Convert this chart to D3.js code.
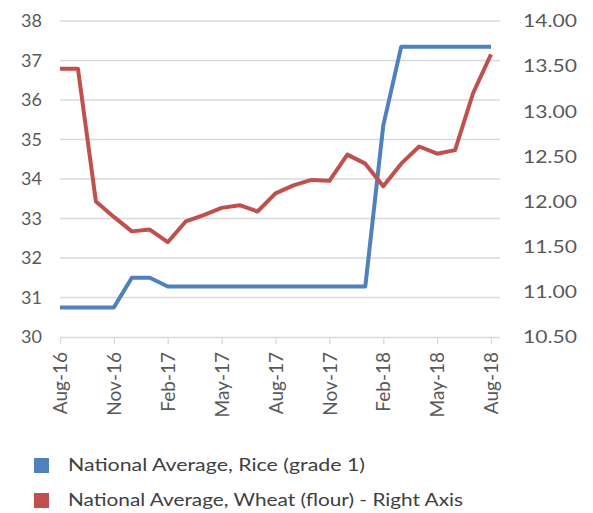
<!DOCTYPE html>
<html><head><meta charset="utf-8">
<script src="https://cdn.jsdelivr.net/npm/d3@7"></script>
<style>body{margin:0;background:#fff}svg{display:block}</style>
</head><body>
<svg id="c" width="593" height="513"></svg>
<script>
const months = ["Aug-16","Sep-16","Oct-16","Nov-16","Dec-16","Jan-17","Feb-17","Mar-17","Apr-17","May-17","Jun-17","Jul-17","Aug-17","Sep-17","Oct-17","Nov-17","Dec-17","Jan-18","Feb-18","Mar-18","Apr-18","May-18","Jun-18","Jul-18","Aug-18"];
const riceValues = [30.75,30.75,30.75,30.75,31.5,31.5,31.28,31.28,31.28,31.28,31.28,31.28,31.28,31.28,31.28,31.28,31.28,31.28,35.35,37.35,37.35,37.35,37.35,37.35,37.35];
const wheatValues = [13.47,13.47,12.0,11.83,11.67,11.69,11.55,11.78,11.85,11.93,11.96,11.89,12.09,12.18,12.24,12.23,12.52,12.42,12.17,12.42,12.61,12.53,12.57,13.2,13.63];
const leftTicks = [30,31,32,33,34,35,36,37,38];
const rightTicks = [10.5,11,11.5,12,12.5,13,13.5,14];
const xTickLabels = ["Aug-16","Nov-16","Feb-17","May-17","Aug-17","Nov-17","Feb-18","May-18","Aug-18"];
const seriesNames = ["National Average, Rice (grade 1)","National Average, Wheat (flour) - Right Axis"];
const colors = ["#4F81BD","#C0504D"];

const svg = d3.select("#c");
const font = "Lato, 'Open Sans', sans-serif";
const x0 = 60, x1 = 491, yTop = 21, yBot = 337, gridRight = 500;
const x = d3.scalePoint().domain(months).range([x0, x1]);
const yL = d3.scaleLinear().domain([30,38]).range([yBot, yTop]);
const yR = d3.scaleLinear().domain([10.5,14]).range([yBot, yTop]);

// gridlines
svg.append("g").selectAll("line").data(leftTicks.slice(1)).join("line")
  .attr("x1", x0).attr("x2", gridRight)
  .attr("y1", d => yL(d)).attr("y2", d => yL(d))
  .attr("stroke", "#d9d9d9").attr("stroke-width", 1.3);

// bottom axis
const xAxis = d3.axisBottom(x).tickValues(xTickLabels).tickSize(7).tickFormat(d => d);
const gx = svg.append("g").attr("transform", `translate(0,${yBot})`).call(xAxis);
gx.select(".domain").attr("d", `M${x0},0.5H${gridRight}`).attr("stroke", "#d9d9d9").attr("stroke-width", 1.3);
gx.selectAll(".tick line").attr("stroke", "#d9d9d9").attr("stroke-width", 1.3);
gx.selectAll(".tick text")
  .attr("transform", "rotate(-90)")
  .attr("x", -15).attr("y", 0).attr("dy", "0.35em")
  .attr("text-anchor", "end")
  .attr("fill", "#595959").attr("font-family", font).attr("font-size", 19);

// left axis
const gl = svg.append("g").attr("transform", `translate(${x0},0)`)
  .call(d3.axisLeft(yL).tickValues(leftTicks).tickSize(0).tickPadding(18).tickFormat(d3.format("d")));
gl.select(".domain").remove();
gl.selectAll("text").attr("fill", "#595959").attr("font-family", font).attr("font-size", 18);

// right axis
const gr = svg.append("g").attr("transform", `translate(${gridRight},0)`)
  .call(d3.axisRight(yR).tickValues(rightTicks).tickSize(0).tickPadding(23).tickFormat(d3.format(".2f")));
gr.select(".domain").remove();
gr.selectAll("text").attr("fill", "#595959").attr("font-family", font).attr("font-size", 18)
  .attr("textLength", 54).attr("lengthAdjust", "spacingAndGlyphs");

// lines
const lineL = d3.line().x((d,i) => x(months[i])).y(d => yL(d));
const lineR = d3.line().x((d,i) => x(months[i])).y(d => yR(d));
svg.append("path").attr("d", lineL(riceValues)).attr("fill", "none")
  .attr("stroke", colors[0]).attr("stroke-width", 4).attr("stroke-linejoin", "round");
svg.append("path").attr("d", lineR(wheatValues)).attr("fill", "none")
  .attr("stroke", colors[1]).attr("stroke-width", 4).attr("stroke-linejoin", "round");

// legend
const legendWidths = [297, 395];
const lg = svg.append("g");
seriesNames.forEach((n, i) => {
  const yy = 465.5 + i * 35;
  lg.append("rect").attr("x", 34).attr("y", yy - 7.5).attr("width", 15).attr("height", 15).attr("fill", colors[i]);
  lg.append("text").attr("x", 68).attr("y", yy).attr("dy", "0.35em")
    .attr("fill", "#404040").attr("font-family", font).attr("font-size", 17)
    .attr("textLength", legendWidths[i]).attr("lengthAdjust", "spacingAndGlyphs").text(n);
});
</script>
</body></html>
